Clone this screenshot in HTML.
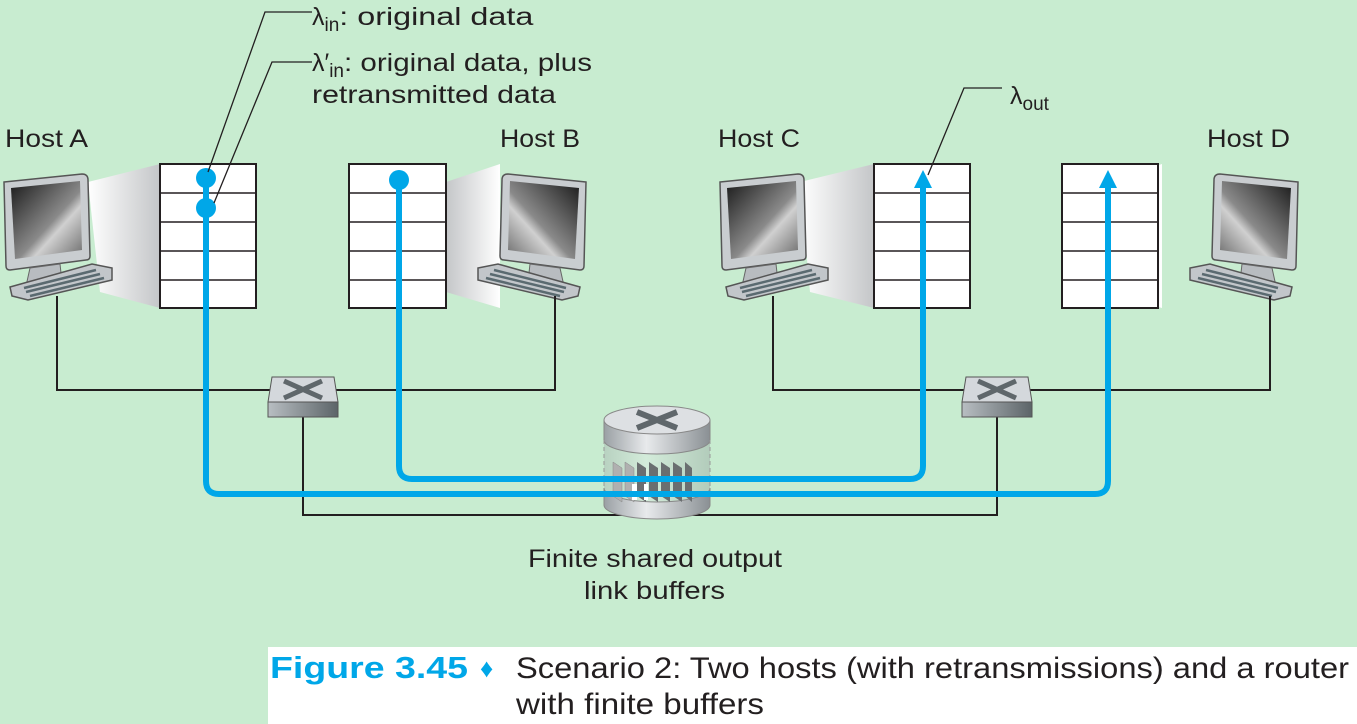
<!DOCTYPE html>
<html><head><meta charset="utf-8"><style>
html,body{margin:0;padding:0;background:#c8ecd0;}
svg{display:block;}
text{font-family:"Liberation Sans","DejaVu Sans",sans-serif;fill:#231f20;}
</style></head><body>
<svg width="1357" height="724" viewBox="0 0 1357 724" xmlns="http://www.w3.org/2000/svg">
<defs>
<linearGradient id="scr" x1="0" y1="0" x2="1" y2="1">
<stop offset="0" stop-color="#1a1a1a"/><stop offset="0.55" stop-color="#8a8a8a"/><stop offset="0.65" stop-color="#d0d0d0"/><stop offset="1" stop-color="#6a6a6a"/></linearGradient>
<linearGradient id="beam" x1="0" y1="0" x2="1" y2="0">
<stop offset="0" stop-color="#ffffff"/><stop offset="1" stop-color="#c4c6c8"/></linearGradient>
<linearGradient id="sw" x1="0" y1="0" x2="1" y2="0">
<stop offset="0" stop-color="#b8bec2"/><stop offset="1" stop-color="#5c6468"/></linearGradient>
<linearGradient id="cyl" x1="0" y1="0" x2="1" y2="0">
<stop offset="0" stop-color="#9aa0a4"/><stop offset="0.4" stop-color="#e8eaec"/><stop offset="1" stop-color="#8a9094"/></linearGradient>
<g id="mon">
<path d="M4,182 L82,174 Q88,174 88,180 L90,256 Q90,260 86,260 L10,270 Q6,270 6,266 Z" fill="#c9cdd0" stroke="#555" stroke-width="1.5"/>
<path d="M11,188 L80,181 L82,250 L15,259 Z" fill="url(#scr)"/>
<path d="M30,268 L60,264 L62,282 L26,286 Z" fill="#b8bcc0" stroke="#666" stroke-width="1"/>
<path d="M10,287 L92,264 L112,268 L112,280 L28,300 L12,296 Z" fill="#c2c6ca" stroke="#555" stroke-width="1.5"/>
<path d="M24,288 L96,270 M26,292 L100,274 M30,296 L104,278" stroke="#5a6a70" stroke-width="2.5"/>
</g>
</defs>

<polygon points="88,182 160,164 160,308 100,292" fill="url(#beam)"/>
<polygon points="500,182 446,164 446,308 500,292" fill="url(#beam)" transform="translate(946,0) scale(-1,1)"/>
<polygon points="800,182 874,164 874,308 810,292" fill="url(#beam)"/>
<polygon points="1212,182 1158,164 1158,308 1212,292" fill="url(#beam)" transform="translate(2320,0) scale(-1,1)"/>

<use href="#mon"/>
<use href="#mon" transform="translate(590,0) scale(-1,1)"/>
<use href="#mon" transform="translate(716,0)"/>
<use href="#mon" transform="translate(1302,0) scale(-1,1)"/>

<g fill="#fff" stroke="#231f20" stroke-width="2">
<rect x="160" y="164" width="96" height="144"/><rect x="349" y="164" width="97" height="144"/>
<rect x="874" y="164" width="96" height="144"/><rect x="1062" y="164" width="96" height="144"/>
</g>
<g stroke="#231f20" stroke-width="1.5">
<path d="M160,193H256M160,222H256M160,251H256M160,280H256"/>
<path d="M349,193H446M349,222H446M349,251H446M349,280H446"/>
<path d="M874,193H970M874,222H970M874,251H970M874,280H970"/>
<path d="M1062,193H1158M1062,222H1158M1062,251H1158M1062,280H1158"/>
</g>

<g fill="none" stroke="#231f20" stroke-width="2">
<path d="M57,296 V390 H555 V296"/>
<path d="M773,296 V390 H1270 V296"/>
<path d="M303,414 V515 H997 V414"/>
</g>

<g>
<polygon points="272,377 334,377 338,402 268,402" fill="#d4d8dc" stroke="#555" stroke-width="1"/>
<rect x="268" y="402" width="70" height="15" fill="url(#sw)" stroke="#555" stroke-width="1"/>
<path d="M284,381 L322,398 M322,381 L284,398" stroke="#5f676b" stroke-width="5"/>
<polygon points="966,377 1028,377 1032,402 962,402" fill="#d4d8dc" stroke="#555" stroke-width="1"/>
<rect x="962" y="402" width="70" height="15" fill="url(#sw)" stroke="#555" stroke-width="1"/>
<path d="M978,381 L1016,398 M1016,381 L978,398" stroke="#5f676b" stroke-width="5"/>
</g>

<g>
<path d="M604,420 V505 A53,14 0 0 0 710,505 V420" fill="url(#cyl)" opacity="0.35"/>
<path d="M604,488 V505 A53,14 0 0 0 710,505 V488 A53,14 0 0 1 604,488Z" fill="url(#cyl)" stroke="#888"/>
<path d="M604,420 V440 A53,14 0 0 0 710,440 V420" fill="url(#cyl)" stroke="#888"/>
<ellipse cx="657" cy="420" rx="53" ry="14" fill="#dde0e3" stroke="#888"/>
<path d="M637,412 L677,428 M677,412 L637,428" stroke="#5f676b" stroke-width="6"/>
<path d="M604,440 V488 M710,440 V488" stroke="#999" stroke-dasharray="4,3"/>
<g fill="#b0b0b0" stroke="#888" stroke-width="0.5">
<polygon points="613,462 622,468 622,502 613,496"/>
<polygon points="625,462 634,468 634,502 625,496"/>
</g>
<g fill="#6a6e70">
<polygon points="637,462 646,468 646,502 637,496"/>
<polygon points="649,462 658,468 658,502 649,496"/>
<polygon points="661,462 670,468 670,502 661,496"/>
<polygon points="673,462 682,468 682,502 673,496"/>
<polygon points="685,462 692,468 692,502 685,496"/>
</g>
<rect x="632" y="484" width="5" height="16" fill="#fff"/>
<rect x="644" y="484" width="4" height="16" fill="#fff"/>
</g>

<g fill="none" stroke="#00a7e8" stroke-width="6">
<path d="M206,178 V481 Q206,494 219,494 H1095 Q1108,494 1108,481 V186"/>
<path d="M399,180 V466 Q399,479 412,479 H910 Q923,479 923,466 V186"/>
</g>
<g fill="#00a7e8">
<polygon points="914,188 932,188 923,170"/>
<polygon points="1099,188 1117,188 1108,170"/>
<circle cx="206" cy="178" r="10"/><circle cx="206" cy="208" r="10"/><circle cx="399" cy="180" r="10"/>
</g>

<g fill="none" stroke="#231f20" stroke-width="1.3">
<path d="M312,12 H265 L208,172"/>
<path d="M312,62 H272 L214,203"/>
<path d="M1002,88 H964 L928,175"/>
</g>

<g font-size="25">
<text x="312" y="25">λ<tspan font-size="19" dy="6">in</tspan><tspan dy="-6" textLength="194" lengthAdjust="spacingAndGlyphs">: original data</tspan></text>
<text x="312" y="71">λ′<tspan font-size="19" dy="6">in</tspan><tspan dy="-6" textLength="248" lengthAdjust="spacingAndGlyphs">: original data, plus</tspan></text>
<text x="312" y="103" textLength="244" lengthAdjust="spacingAndGlyphs">retransmitted data</text>
<text x="1010" y="104">λ<tspan font-size="19" dy="6">out</tspan></text>
<text x="5" y="147" textLength="83" lengthAdjust="spacingAndGlyphs">Host A</text>
<text x="500" y="147" textLength="80" lengthAdjust="spacingAndGlyphs">Host B</text>
<text x="718" y="147" textLength="82" lengthAdjust="spacingAndGlyphs">Host C</text>
<text x="1207" y="147" textLength="83" lengthAdjust="spacingAndGlyphs">Host D</text>
<text x="528" y="567" textLength="254" lengthAdjust="spacingAndGlyphs">Finite shared output</text>
<text x="584" y="599" textLength="141" lengthAdjust="spacingAndGlyphs">link buffers</text>
</g>

<rect x="268" y="647" width="1089" height="77" fill="#fff"/>
<text x="270" y="678" font-size="31" font-weight="bold" style="fill:#00a7e8" textLength="198" lengthAdjust="spacingAndGlyphs">Figure 3.45</text>
<text x="480" y="677" font-size="26" style="fill:#00a7e8">♦</text>
<text x="516" y="678" font-size="30" textLength="833" lengthAdjust="spacingAndGlyphs">Scenario 2: Two hosts (with retransmissions) and a router</text>
<text x="516" y="714" font-size="30" textLength="248" lengthAdjust="spacingAndGlyphs">with finite buffers</text>
</svg>
</body></html>
